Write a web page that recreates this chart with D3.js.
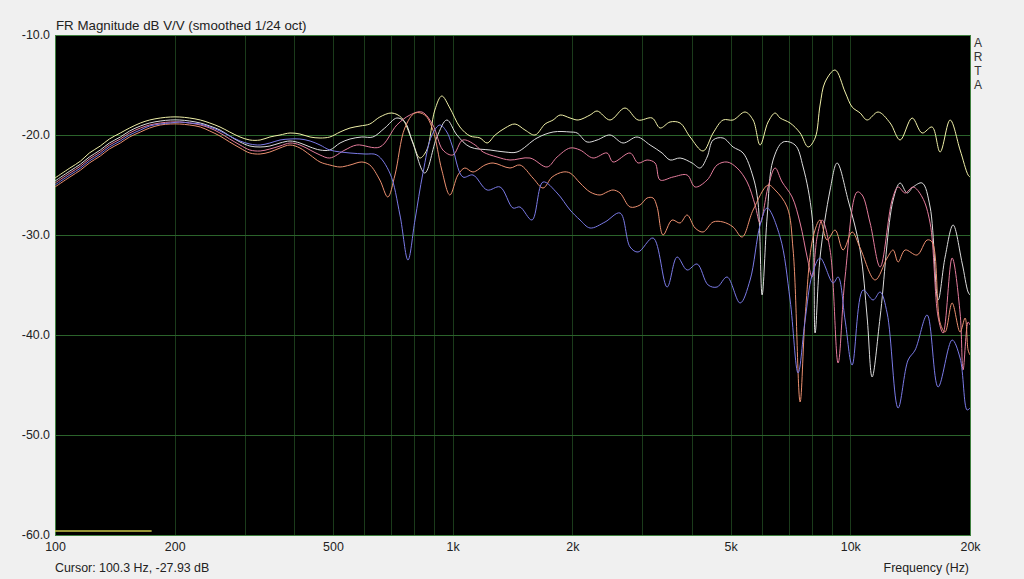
<!DOCTYPE html>
<html><head><meta charset="utf-8">
<script src="https://cdn.jsdelivr.net/npm/d3@7/dist/d3.min.js"></script>
<style>
body{margin:0;background:#f0f0f0;overflow:hidden;}
svg{display:block;font-family:"Liberation Sans",Arial,sans-serif;}
</style>
</head><body>
<svg id="chart" width="1024" height="579"></svg>
<script>
// ---- data (frequency Hz, dB) ----
const title = "FR Magnitude dB V/V (smoothed 1/24 oct)";
const cursorText = "Cursor: 100.3 Hz, -27.93 dB";
const xTitle = "Frequency (Hz)";
const brand = ["A","R","T","A"];
const xLabelTicks = [100,200,500,1000,2000,5000,10000,20000];
const xLabelText = ["100","200","500","1k","2k","5k","10k","20k"];
const xGridTicks = [200,300,400,500,600,700,800,900,1000,2000,3000,4000,5000,6000,7000,8000,9000,10000];
const yTicks = [-10,-20,-30,-40,-50,-60];
const yGridTicks = [-20,-30,-40,-50];
const cursorMark = [[100,-59.6],[175,-59.6]];

const seriesYellow = [[100,-24.3],[109,-23.3],[116,-22.6],[122,-21.8],[130,-21.1],[137,-20.4],[146,-19.8],[154,-19.3],[164,-18.8],[173,-18.5],[184,-18.3],[195,-18.2],[206,-18.2],[218,-18.3],[232,-18.5],[245,-18.8],[260,-19.2],[275,-19.7],[292,-20.2],[309,-20.5],[328,-20.5],[347,-20.2],[368,-20.0],[390,-19.8],[413,-19.9],[438,-20.2],[464,-20.3],[491,-20.2],[521,-19.7],[552,-19.3],[585,-19.1],[619,-18.9],[656,-18.2],[703,-17.8],[745,-18.3],[790,-20.5],[827,-22.3],[861,-21.5],[902,-17.5],[939,-16.1],[984,-17.3],[1043,-19.2],[1106,-20.1],[1172,-20.3],[1221,-20.8],[1279,-20.0],[1355,-19.3],[1435,-18.9],[1520,-19.5],[1611,-20.0],[1708,-18.9],[1789,-18.5],[1863,-18.0],[1974,-18.3],[2068,-18.5],[2216,-18.0],[2308,-17.6],[2488,-18.5],[2713,-17.3],[2926,-18.5],[3174,-18.3],[3324,-19.3],[3522,-18.7],[3732,-18.8],[3955,-20.2],[4264,-21.6],[4519,-19.8],[4787,-18.5],[5073,-18.5],[5438,-17.7],[5696,-18.5],[5932,-21.0],[6213,-18.7],[6470,-17.8],[6660,-18.3],[7057,-18.8],[7478,-19.8],[7833,-21.2],[8157,-20.3],[8395,-17.0],[8642,-14.7],[9158,-13.5],[9703,-15.7],[10107,-17.2],[10585,-17.8],[11023,-18.5],[11748,-17.7],[12594,-18.8],[13344,-20.5],[14305,-18.3],[15157,-19.8],[16061,-19.2],[16821,-21.7],[17823,-18.5],[18885,-21.5],[19780,-24.0],[20000,-24.2]];

const seriesWhite = [[100,-24.6],[109,-23.6],[116,-22.9],[122,-22.2],[130,-21.5],[137,-20.8],[146,-20.2],[154,-19.6],[164,-19.1],[173,-18.8],[184,-18.6],[195,-18.5],[206,-18.5],[218,-18.6],[232,-18.8],[245,-19.1],[260,-19.5],[275,-20.1],[292,-20.7],[309,-21.1],[328,-21.2],[347,-21.1],[368,-20.8],[390,-20.6],[413,-20.8],[438,-21.2],[464,-21.5],[491,-21.5],[521,-20.8],[552,-20.4],[591,-20.2],[630,-20.2],[675,-19.3],[724,-18.3],[758,-18.7],[794,-20.8],[851,-23.8],[913,-20.2],[967,-18.5],[1025,-20.0],[1106,-21.2],[1242,-21.5],[1355,-21.7],[1452,-21.7],[1630,-20.3],[1789,-19.7],[1974,-19.7],[2056,-19.8],[2178,-20.7],[2308,-20.5],[2488,-20.0],[2682,-20.8],[2910,-20.2],[3137,-21.0],[3363,-21.8],[3522,-22.5],[3732,-22.3],[4001,-22.8],[4191,-23.3],[4365,-22.2],[4519,-20.5],[4787,-20.3],[5073,-21.2],[5375,-21.8],[5696,-24.2],[5863,-26.8],[6001,-36.0],[6178,-28.2],[6395,-22.5],[6777,-20.7],[7264,-21.0],[7609,-23.2],[8017,-28.2],[8157,-39.8],[8395,-32.2],[8896,-25.5],[9264,-22.8],[9873,-26.5],[10585,-31.5],[11023,-38.2],[11347,-44.2],[11885,-38.2],[12815,-26.5],[13344,-24.8],[13897,-25.8],[14387,-25.2],[15157,-24.8],[15875,-27.2],[16628,-36.5],[17315,-32.2],[18135,-29.0],[19106,-32.8],[19780,-35.7],[20000,-36.0]];

const seriesPink = [[100,-24.8],[109,-23.8],[116,-23.1],[122,-22.4],[130,-21.7],[137,-21.0],[146,-20.4],[154,-19.8],[164,-19.3],[173,-19.0],[184,-18.8],[195,-18.7],[206,-18.7],[218,-18.8],[232,-19.0],[245,-19.3],[260,-19.8],[275,-20.4],[292,-21.0],[309,-21.5],[328,-21.6],[347,-21.4],[368,-21.1],[390,-20.8],[413,-21.0],[438,-21.5],[464,-22.0],[491,-22.3],[536,-21.5],[574,-21.0],[656,-21.2],[724,-19.0],[781,-18.0],[837,-17.7],[892,-19.0],[945,-21.5],[1001,-22.0],[1061,-20.5],[1139,-21.0],[1193,-21.7],[1293,-22.2],[1394,-22.5],[1565,-22.3],[1728,-23.2],[1831,-22.2],[1974,-21.3],[2091,-21.5],[2255,-22.3],[2445,-21.8],[2532,-22.7],[2794,-21.8],[2926,-22.8],[3083,-22.5],[3229,-22.8],[3324,-24.5],[3584,-24.2],[3887,-24.0],[4071,-25.2],[4365,-24.5],[4625,-23.0],[4900,-22.7],[5192,-23.3],[5502,-24.7],[5762,-27.0],[5932,-28.8],[6213,-25.2],[6470,-23.3],[6738,-24.7],[7140,-26.2],[7478,-28.8],[7788,-32.2],[8017,-34.2],[8252,-30.2],[8493,-28.5],[8896,-31.5],[9318,-42.8],[9703,-34.2],[10404,-25.7],[10709,-26.0],[11216,-28.8],[11885,-33.2],[12741,-26.5],[13191,-25.2],[13736,-25.8],[14387,-25.2],[15157,-26.2],[15875,-28.8],[16628,-38.2],[17115,-39.8],[18032,-32.3],[18885,-37.8],[19215,-43.5],[19780,-38.7],[20000,-39.0]];

const seriesOrange = [[100,-25.2],[109,-24.2],[116,-23.5],[122,-22.8],[130,-22.1],[137,-21.4],[146,-20.8],[154,-20.2],[164,-19.7],[173,-19.3],[184,-19.0],[195,-18.9],[206,-18.9],[218,-19.0],[232,-19.2],[245,-19.6],[260,-20.1],[275,-20.7],[292,-21.3],[309,-21.8],[328,-21.9],[347,-21.7],[368,-21.3],[390,-21.0],[413,-21.3],[438,-22.0],[464,-22.7],[491,-23.0],[521,-23.2],[552,-23.0],[591,-22.7],[619,-23.0],[656,-24.5],[687,-26.2],[716,-24.0],[758,-19.3],[804,-17.8],[851,-18.0],[892,-19.5],[939,-23.5],[984,-26.0],[1031,-24.0],[1073,-23.3],[1125,-23.7],[1206,-23.0],[1264,-22.8],[1394,-23.3],[1477,-23.0],[1592,-24.3],[1688,-25.3],[1779,-24.2],[1896,-23.7],[1974,-23.8],[2091,-24.8],[2216,-25.7],[2348,-26.0],[2445,-25.7],[2532,-25.5],[2636,-25.8],[2794,-27.2],[2960,-27.0],[3083,-26.3],[3192,-26.3],[3267,-27.2],[3382,-30.0],[3563,-28.5],[3732,-28.8],[3887,-28.0],[4071,-29.3],[4264,-29.7],[4519,-28.7],[4787,-28.7],[5073,-29.2],[5345,-30.2],[5696,-27.5],[6213,-25.0],[6470,-25.5],[6936,-27.2],[7181,-31.5],[7478,-46.7],[7698,-38.2],[8063,-30.2],[8395,-28.5],[8743,-30.5],[9158,-29.5],[9591,-31.5],[10107,-29.7],[10585,-31.3],[11546,-34.5],[12377,-32.3],[12815,-31.5],[13191,-32.7],[13736,-31.5],[14725,-32.0],[15602,-30.5],[16061,-30.7],[16821,-38.8],[17315,-39.7],[18032,-36.8],[18885,-39.7],[19440,-38.3],[19780,-41.5],[20000,-42.0]];

const seriesBlue = [[100,-25.0],[109,-24.0],[116,-23.3],[122,-22.6],[130,-21.9],[137,-21.2],[146,-20.6],[154,-20.0],[164,-19.5],[173,-19.1],[184,-18.9],[195,-18.8],[206,-18.7],[218,-18.8],[232,-18.9],[245,-19.2],[260,-19.6],[275,-20.1],[292,-20.6],[309,-20.9],[328,-21.0],[347,-20.8],[368,-20.5],[390,-20.4],[413,-20.4],[438,-20.6],[464,-21.0],[491,-21.5],[552,-21.8],[602,-21.9],[645,-22.0],[695,-23.8],[737,-28.0],[772,-32.5],[804,-28.5],[842,-23.8],[887,-20.0],[929,-19.0],[967,-19.7],[996,-21.0],[1061,-24.2],[1125,-24.0],[1221,-25.5],[1316,-25.2],[1418,-27.3],[1477,-27.2],[1583,-28.5],[1688,-24.7],[1831,-25.8],[1974,-27.5],[2091,-28.5],[2216,-29.3],[2417,-28.7],[2636,-27.8],[2794,-31.2],[2926,-31.7],[3192,-30.3],[3462,-35.2],[3668,-32.2],[3887,-33.5],[4119,-32.9],[4390,-35.0],[4625,-35.2],[4900,-34.2],[5283,-36.8],[5598,-34.5],[5932,-29.0],[6178,-27.3],[6660,-30.2],[7057,-36.5],[7392,-43.8],[7698,-38.5],[8017,-34.0],[8395,-32.3],[9052,-34.8],[9318,-34.2],[9703,-38.5],[10107,-43.0],[10770,-35.5],[11412,-36.5],[11885,-35.7],[12377,-37.8],[13191,-47.3],[13977,-42.5],[14556,-41.5],[15602,-38.0],[16628,-45.2],[18032,-40.5],[18885,-42.3],[19667,-47.5],[20000,-47.3]];

const seriesList = [seriesYellow, seriesWhite, seriesPink, seriesOrange, seriesBlue];
const seriesColors = ["#f0f0a8","#dcdcdc","#e47c9c","#ec9070","#7a7ae6"];

// ---- layout ----
const L = 55, R = 970, T = 35, B = 535;
const svg = d3.select("#chart");
const x = d3.scaleLog().domain([100,20000]).range([L,R]);
const y = d3.scaleLinear().domain([-60,-10]).range([B,T]);

svg.append("rect").attr("x",L).attr("y",T).attr("width",R-L).attr("height",B-T).attr("fill","#000");

// vertical grid
const gx = svg.append("g").attr("transform",`translate(0,${B})`)
  .call(d3.axisBottom(x).tickValues(xGridTicks).tickSize(-(B-T)).tickFormat(""));
gx.select(".domain").remove();
gx.selectAll("line").attr("stroke","#1b3b1b").attr("stroke-width",1).attr("shape-rendering","crispEdges");

// horizontal grid
const gy = svg.append("g").attr("transform",`translate(${L},0)`)
  .call(d3.axisLeft(y).tickValues(yGridTicks).tickSize(-(R-L)).tickFormat(""));
gy.select(".domain").remove();
gy.selectAll("line").attr("stroke","#2b632b").attr("stroke-width",1).attr("shape-rendering","crispEdges");

// border
svg.append("rect").attr("x",L).attr("y",T).attr("width",R-L).attr("height",B-T)
  .attr("fill","none").attr("stroke","#3f803f").attr("stroke-width",1).attr("shape-rendering","crispEdges");

// clip
svg.append("clipPath").attr("id","clip").append("rect").attr("x",L).attr("y",T).attr("width",R-L).attr("height",B-T);

const line = d3.line().x(d=>x(d[0])).y(d=>y(d[1])).curve(d3.curveCatmullRom.alpha(0.5));
const gl = svg.append("g").attr("clip-path","url(#clip)");
seriesList.forEach((s,i)=>{
  gl.append("path").datum(s).attr("d",line).attr("fill","none")
    .attr("stroke",seriesColors[i]).attr("stroke-width",1);
});

// cursor mark
gl.append("path").datum(cursorMark).attr("d",d3.line().x(d=>x(d[0])).y(d=>y(d[1])))
  .attr("stroke","#c8c84a").attr("stroke-width",1.5).attr("fill","none");

// y labels
const ay = svg.append("g").attr("transform",`translate(${L},0)`)
  .call(d3.axisLeft(y).tickValues(yTicks).tickSize(0).tickPadding(5).tickFormat(d=>d.toFixed(1)));
ay.select(".domain").remove();
ay.selectAll("text").attr("font-size","12.4px").attr("fill","#222").style("font-family","'Liberation Sans',Arial,sans-serif");

// x labels
const ax = svg.append("g").attr("transform",`translate(0,${B})`)
  .call(d3.axisBottom(x).tickValues(xLabelTicks).tickSize(0).tickPadding(7).tickFormat((d,i)=>xLabelText[i]));
ax.select(".domain").remove();
ax.selectAll("text").attr("font-size","12.4px").attr("fill","#222").style("font-family","'Liberation Sans',Arial,sans-serif");

svg.append("text").attr("x",56).attr("y",30).attr("font-size","13.3px").attr("fill","#222").text(title);
svg.append("text").attr("x",55).attr("y",572).attr("font-size","12.4px").attr("fill","#222").text(cursorText);
svg.append("text").attr("x",969).attr("y",572).attr("text-anchor","end").attr("font-size","12.4px").attr("fill","#222").text(xTitle);
svg.selectAll(".brand").data(brand).enter().append("text").attr("class","brand")
  .attr("x",978).attr("y",(d,i)=>47+i*14).attr("text-anchor","middle").attr("font-size","12px").attr("fill","#333").text(d=>d);
</script>
</body></html>
